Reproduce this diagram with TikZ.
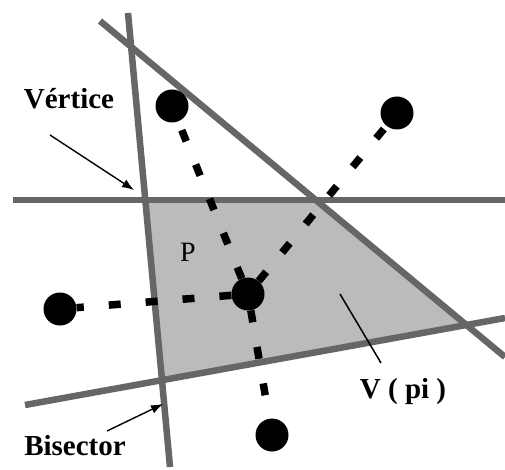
\documentclass[tikz,border=0pt]{standalone}
\usepackage{fontspec}
\setmainfont{Liberation Serif}
\usepackage{xcolor}
\definecolor{edge}{HTML}{666666}
\definecolor{cell}{HTML}{BBBBBB}
\usetikzlibrary{arrows.meta}

\begin{document}
\begin{tikzpicture}[x=1pt, y=-1pt,
  bisec/.style={draw=edge, line width=6.5pt},
  site/.style={circle, fill=black, minimum size=33pt, inner sep=0pt},
  link/.style={line width=7.5pt, dash pattern=on 12pt off 25pt},
  tag/.style={font=\fontsize{29}{32}\selectfont\bfseries},
  pointer/.style={-{Latex[length=12pt,width=9pt]}, line width=1.4pt}
]
\useasboundingbox (0,0) rectangle (505,470);

% end points of the four bisectors
\coordinate (a1) at (128,13);  \coordinate (a2) at (170,467);
\coordinate (b1) at (100,21);  \coordinate (b2) at (505,357);
\coordinate (c1) at (13,200);  \coordinate (c2) at (505,200);
\coordinate (d1) at (25,405);  \coordinate (d2) at (505,318);

% the cell V(pi)
\fill[cell] (intersection of a1--a2 and c1--c2)
  -- (intersection of b1--b2 and c1--c2)
  -- (intersection of b1--b2 and d1--d2)
  -- (intersection of a1--a2 and d1--d2) -- cycle;

\draw[bisec] (a1) -- (a2);
\draw[bisec] (b1) -- (b2);
\draw[bisec] (c1) -- (c2);
\draw[bisec] (d1) -- (d2);

% sites
\node[site] (pi) at (248,294) {};
\node[site] (s1) at (172,106) {};
\node[site] (s2) at (397,113) {};
\node[site] (s3) at (60,309) {};
\node[site] (s4) at (272,435) {};

\draw[link] (pi) -- (s1);
\draw[link] (pi) -- (s2);
\draw[link] (pi) -- (s3);
\draw[link] (pi) -- (s4);

% labels
\node[tag] (vert) at (69,99) {Vértice};
\node[tag] (bis) at (75,446) {Bisector};
\node[tag] (cellname) at (403,392) {V ( pi )};
\node[font=\fontsize{28}{30}\selectfont] (p) at (188,252) {P};

\coordinate (vfrom) at (50,135);  \coordinate (vto) at (134,190);
\coordinate (bfrom) at (107,431); \coordinate (bto) at (163,404);
\coordinate (cfrom) at (340,294); \coordinate (cto) at (381,363);
\draw[pointer] (vfrom) -- (vto);
\draw[pointer] (bfrom) -- (bto);
\draw[line width=1.5pt] (cfrom) -- (cto);
\end{tikzpicture}
\end{document}
